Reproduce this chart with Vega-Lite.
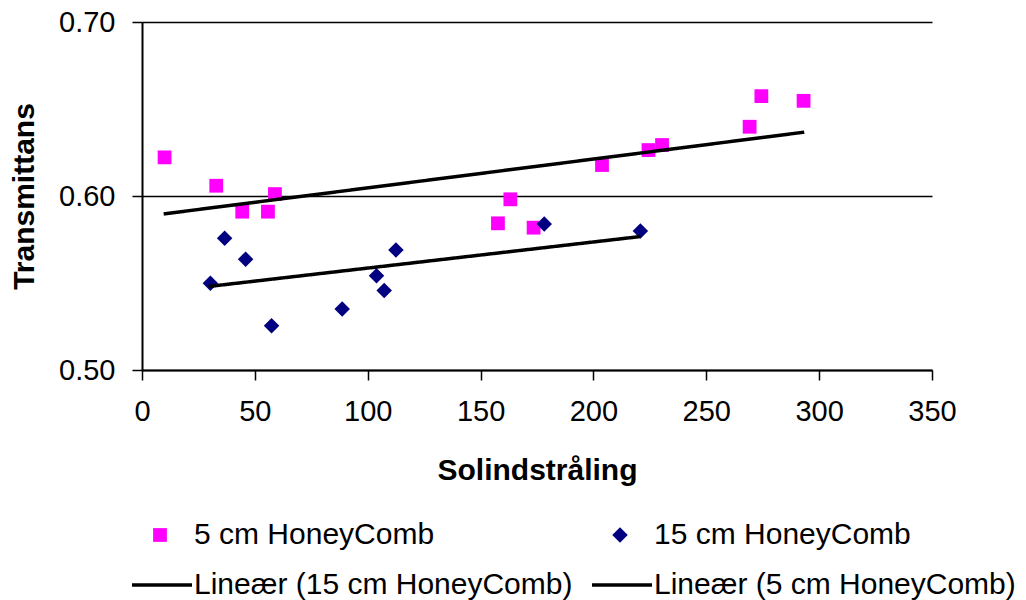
{
  "$schema": "https://vega.github.io/schema/vega-lite/v6.json",
  "width": 790,
  "height": 348,
  "autosize": {"type": "none"},
  "padding": {"left": 142, "top": 22, "right": 94, "bottom": 230},
  "background": "white",
  "config": {
    "view": {"stroke": null},
    "font": "Liberation Sans",
    "axis": {
      "domainColor": "black",
      "domainWidth": 2,
      "tickColor": "black",
      "tickWidth": 1.5,
      "tickSize": 10,
      "labelColor": "black",
      "labelFont": "Liberation Sans",
      "labelFontSize": 29,
      "titleColor": "black",
      "titleFont": "Liberation Sans",
      "titleFontSize": 30,
      "titleFontWeight": "bold"
    },
    "legend": {
      "labelFont": "Liberation Sans",
      "labelFontSize": 30,
      "labelColor": "black",
      "labelLimit": 600,
      "padding": 0,
      "offset": 0
    }
  },
  "datasets": {
    "points": [
      {"series": "5 cm HoneyComb", "Solindstraling": 10.0, "Transmittans": 0.6222},
      {"series": "5 cm HoneyComb", "Solindstraling": 32.9, "Transmittans": 0.6059},
      {"series": "5 cm HoneyComb", "Solindstraling": 44.4, "Transmittans": 0.591},
      {"series": "5 cm HoneyComb", "Solindstraling": 55.8, "Transmittans": 0.591},
      {"series": "5 cm HoneyComb", "Solindstraling": 58.9, "Transmittans": 0.6011},
      {"series": "5 cm HoneyComb", "Solindstraling": 157.7, "Transmittans": 0.5843},
      {"series": "5 cm HoneyComb", "Solindstraling": 163.2, "Transmittans": 0.5981},
      {"series": "5 cm HoneyComb", "Solindstraling": 173.5, "Transmittans": 0.5818},
      {"series": "5 cm HoneyComb", "Solindstraling": 203.8, "Transmittans": 0.6178},
      {"series": "5 cm HoneyComb", "Solindstraling": 224.4, "Transmittans": 0.6264},
      {"series": "5 cm HoneyComb", "Solindstraling": 230.4, "Transmittans": 0.6293},
      {"series": "5 cm HoneyComb", "Solindstraling": 269.2, "Transmittans": 0.6398},
      {"series": "5 cm HoneyComb", "Solindstraling": 274.4, "Transmittans": 0.6574},
      {"series": "5 cm HoneyComb", "Solindstraling": 293.1, "Transmittans": 0.6547},
      {"series": "15 cm HoneyComb", "Solindstraling": 30.3, "Transmittans": 0.5499},
      {"series": "15 cm HoneyComb", "Solindstraling": 36.6, "Transmittans": 0.5757},
      {"series": "15 cm HoneyComb", "Solindstraling": 45.9, "Transmittans": 0.5637},
      {"series": "15 cm HoneyComb", "Solindstraling": 57.4, "Transmittans": 0.5254},
      {"series": "15 cm HoneyComb", "Solindstraling": 88.7, "Transmittans": 0.535},
      {"series": "15 cm HoneyComb", "Solindstraling": 103.9, "Transmittans": 0.5541},
      {"series": "15 cm HoneyComb", "Solindstraling": 107.3, "Transmittans": 0.5457},
      {"series": "15 cm HoneyComb", "Solindstraling": 112.5, "Transmittans": 0.569},
      {"series": "15 cm HoneyComb", "Solindstraling": 178.2, "Transmittans": 0.5839},
      {"series": "15 cm HoneyComb", "Solindstraling": 220.8, "Transmittans": 0.5799}
    ],
    "trends": [
      {"trend": "Lineær (15 cm HoneyComb)", "Solindstraling": 29.5, "Transmittans": 0.548},
      {"trend": "Lineær (15 cm HoneyComb)", "Solindstraling": 220.8, "Transmittans": 0.5767},
      {"trend": "Lineær (5 cm HoneyComb)", "Solindstraling": 9.6, "Transmittans": 0.5897},
      {"trend": "Lineær (5 cm HoneyComb)", "Solindstraling": 293.4, "Transmittans": 0.6367}
    ]
  },
  "encoding": {
    "x": {
      "field": "Solindstraling",
      "type": "quantitative",
      "scale": {"domain": [0, 350], "nice": false, "zero": false},
      "axis": {
        "title": "Solindstråling",
        "values": [0, 50, 100, 150, 200, 250, 300, 350],
        "grid": false,
        "labelPadding": 17,
        "labelFlush": false,
        "titlePadding": 29
      }
    },
    "y": {
      "field": "Transmittans",
      "type": "quantitative",
      "scale": {"domain": [0.5, 0.7], "nice": false, "zero": false},
      "axis": {
        "title": "Transmittans",
        "values": [0.5, 0.6, 0.7],
        "format": ".2f",
        "grid": true,
        "gridColor": "black",
        "gridOpacity": 1,
        "gridWidth": 1.5,
        "labelPadding": 17,
        "titlePadding": 19
      }
    }
  },
  "layer": [
    {
      "data": {"name": "points"},
      "mark": {"type": "point", "filled": true, "opacity": 1},
      "encoding": {
        "color": {
          "field": "series",
          "type": "nominal",
          "scale": {"domain": ["5 cm HoneyComb", "15 cm HoneyComb"], "range": ["#FF00FF", "#000080"]},
          "legend": {
            "orient": "none",
            "legendX": 3,
            "legendY": 498,
            "direction": "horizontal",
            "columns": 2,
            "title": null,
            "labelOffset": 19,
            "columnPadding": 170
          }
        },
        "shape": {
          "field": "series",
          "type": "nominal",
          "scale": {"domain": ["5 cm HoneyComb", "15 cm HoneyComb"], "range": ["square", "diamond"]},
          "legend": {
            "orient": "none",
            "legendX": 3,
            "legendY": 498,
            "direction": "horizontal",
            "columns": 2,
            "title": null,
            "labelOffset": 19,
            "columnPadding": 170
          }
        },
        "size": {
          "field": "series",
          "type": "nominal",
          "scale": {"domain": ["5 cm HoneyComb", "15 cm HoneyComb"], "range": [190, 240]},
          "legend": {
            "orient": "none",
            "legendX": 3,
            "legendY": 498,
            "direction": "horizontal",
            "columns": 2,
            "title": null,
            "labelOffset": 19,
            "columnPadding": 170
          }
        }
      }
    },
    {
      "data": {"name": "trends"},
      "mark": {"type": "line", "color": "black", "strokeWidth": 3.5},
      "encoding": {
        "strokeDash": {
          "field": "trend",
          "type": "nominal",
          "scale": {"domain": ["Lineær (15 cm HoneyComb)", "Lineær (5 cm HoneyComb)"], "range": [[1, 0], [1, 0]]},
          "legend": {
            "orient": "none",
            "legendX": -12,
            "legendY": 531,
            "direction": "horizontal",
            "columns": 2,
            "title": null,
            "symbolType": "stroke",
            "symbolSize": 3600,
            "symbolStrokeWidth": 3.5,
            "symbolStrokeColor": "black",
            "labelOffset": 0,
            "columnPadding": 12
          }
        }
      }
    }
  ]
}
